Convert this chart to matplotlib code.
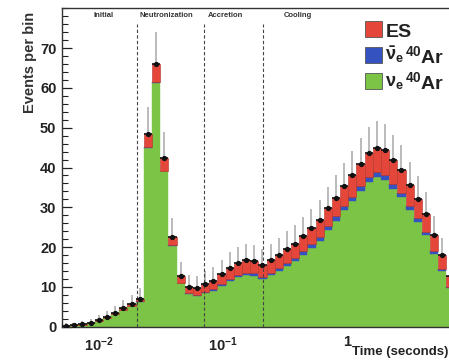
import numpy as np
import matplotlib
matplotlib.use("Agg")
import matplotlib.pyplot as plt
from matplotlib.patches import Rectangle

plt.rcParams['font.family'] = ['Liberation Sans', 'DejaVu Sans']
plt.rcParams['font.weight'] = 'bold'
plt.rcParams['mathtext.fontset'] = 'custom'
plt.rcParams['mathtext.rm'] = 'Liberation Sans:bold'
plt.rcParams['mathtext.it'] = 'Liberation Sans:bold'
plt.rcParams['mathtext.bf'] = 'Liberation Sans:bold'
plt.rcParams['mathtext.sf'] = 'Liberation Sans:bold'

# --- histogram binning: 50 log-spaced bins from 5 ms to 10 s ---
t_min, t_max, n_bins = 0.005, 10.0, 50

# events per bin, stacked: nu_e CC on argon, anti-nu_e CC on argon, elastic scattering
nue_ar = [0.28, 0.32, 0.55, 0.92, 1.48, 2.2, 3.1, 4.2, 5.2, 6.3,
          45.0, 61.2, 39.0, 20.4, 10.9, 8.1, 7.7, 8.4, 9.0, 10.2,
          11.5, 12.4, 13.0, 12.8, 11.9, 13.0, 14.1, 15.3, 16.5, 18.1,
          19.8, 21.6, 24.3, 26.6, 29.2, 31.5, 34.2, 36.4, 37.5, 36.8,
          34.7, 32.5, 29.2, 26.3, 23.0, 18.3, 14.1, 9.6, 5.7, 3.4]
nuebar_ar = [0.0, 0.0, 0.0, 0.0, 0.0, 0.0, 0.0, 0.0, 0.0, 0.1,
             0.2, 0.3, 0.2, 0.2, 0.2, 0.3, 0.3, 0.4, 0.4, 0.5,
             0.5, 0.6, 0.6, 0.6, 0.6, 0.6, 0.7, 0.7, 0.8, 0.8,
             0.9, 0.9, 1.0, 1.1, 1.1, 1.2, 1.2, 1.2, 1.3, 1.3,
             1.2, 1.2, 1.1, 1.0, 0.9, 0.7, 0.5, 0.4, 0.3, 0.2]
es = [0.02, 0.03, 0.05, 0.08, 0.12, 0.2, 0.3, 0.4, 0.5, 0.6,
      3.1, 4.5, 3.3, 2.0, 1.6, 1.5, 1.6, 1.9, 2.1, 2.5,
      2.8, 3.0, 3.1, 3.1, 3.0, 3.1, 3.3, 3.5, 3.6, 3.8,
      4.0, 4.2, 4.4, 4.7, 5.0, 5.3, 5.6, 6.0, 6.2, 6.2,
      5.9, 5.6, 5.2, 4.9, 4.5, 4.0, 3.4, 2.7, 2.0, 1.4]
# statistical uncertainty on the summed events
stat_err = [0.55, 0.6, 0.77, 1.0, 1.26, 1.55, 1.84, 2.14, 2.39, 2.65,
            6.95, 8.12, 6.52, 4.75, 3.56, 3.15, 3.1, 3.27, 3.39, 3.63,
            3.85, 4.0, 4.09, 4.06, 3.94, 4.09, 4.25, 4.42, 4.57, 4.76,
            4.97, 5.17, 5.45, 5.69, 5.94, 6.16, 6.4, 6.6, 6.71, 6.66,
            6.47, 6.27, 5.96, 5.67, 5.33, 4.8, 4.24, 3.56, 2.83, 2.24]

# phase boundaries (seconds) and labels
phase_edges = [0.02, 0.07, 0.21]
phase_names = ["Initial", "Neutronization", "Accretion", "Cooling"]
phase_label_x = [0.0108, 0.0345, 0.104, 0.4]

x_ticks = [0.01, 0.1, 1.0]
x_ticklabels = [r'$10^{-2}$', r'$10^{-1}$', '1']

c_green = '#7cc445'
c_blue = '#3452c0'
c_red = '#e5463a'

W, H = 449, 362
fig = plt.figure(figsize=(W / 100, H / 100), dpi=100)
ax = fig.add_axes([62 / W, 1 - 326.7 / H, 409 / W, (326.7 - 8.3) / H])

edges = np.logspace(np.log10(t_min), np.log10(t_max), n_bins + 1)
widths = np.diff(edges)
centers = np.sqrt(edges[:-1] * edges[1:])
g = np.array(nue_ar)
b = np.array(nuebar_ar)
r = np.array(es)
total = g + b + r
err = np.array(stat_err)

# gray error bars behind the stack, so only the upper half shows
ax.vlines(centers, total - err, total + err, color='#a8a8a8', lw=1.1, zorder=1)

ax.bar(edges[:-1], g, width=widths, align='edge', color=c_green,
       edgecolor=c_green, linewidth=0.3, zorder=2)
ax.bar(edges[:-1], b, bottom=g, width=widths, align='edge', color=c_blue,
       edgecolor=c_blue, linewidth=0.3, zorder=2)
ax.bar(edges[:-1], r, bottom=g + b, width=widths, align='edge', color=c_red,
       edgecolor='#b03428', linewidth=0.4, zorder=2)

ax.errorbar(centers, total, xerr=[centers - edges[:-1], edges[1:] - centers],
            fmt='o', ms=2.8, color='#111111', lw=1.2, capsize=0, zorder=4)

for xe in phase_edges:
    ax.vlines(xe, 0, 76, colors='#444444', linestyles=(0, (3, 2)), lw=0.8, zorder=3)

ax.set_xscale('log')
ax.set_xlim(t_min, t_max)
ax.set_ylim(0, 80)

ax.set_xticks(x_ticks)
ax.set_xticklabels(x_ticklabels)
ax.xaxis.set_minor_locator(matplotlib.ticker.LogLocator(base=10, subs=np.arange(2, 10)))
ax.xaxis.set_minor_formatter(matplotlib.ticker.NullFormatter())
ax.set_yticks(np.arange(0, 80, 10))
ax.yaxis.set_minor_locator(matplotlib.ticker.MultipleLocator(2))

ax.tick_params(axis='both', which='both', direction='in', colors='#222222')
ax.tick_params(axis='y', which='major', length=7, width=0.9, labelsize=10.5, pad=4)
ax.tick_params(axis='y', which='minor', length=4, width=0.8)
ax.tick_params(axis='x', which='major', length=6, width=0.9, labelsize=10.5, pad=6)
ax.tick_params(axis='x', which='minor', length=3, width=0.8)
for lbl in ax.get_xticklabels() + ax.get_yticklabels():
    lbl.set_color('#222222')
    lbl.set_fontweight('bold')

for s in ax.spines.values():
    s.set_linewidth(1.0)
    s.set_color('#333333')

fig.text(30 / W, 1 - 12 / H, "Events per bin", rotation=90, ha='center', va='top',
         fontsize=10.5, fontweight='bold', color='#333333')
fig.text(448 / W, 1 - 355 / H, "Time (seconds)", ha='right', va='baseline',
         fontsize=9.5, fontweight='bold', color='#222222')

for name, xl in zip(phase_names, phase_label_x):
    ax.text(xl, 78.2, name, ha='center', va='center', fontsize=5.5,
            fontweight='bold', color='#333333', zorder=5)

# legend drawn in figure pixels
def box(y_top, color):
    fig.patches.append(Rectangle((365 / W, 1 - (y_top + 16) / H), 17 / W, 16 / H,
                                 transform=fig.transFigure, facecolor=color,
                                 edgecolor='#555555', lw=0.6))

box(21, c_red)
box(47, c_blue)
box(73, c_green)
fig.text(386 / W, 1 - 37 / H, "ES", fontsize=14, fontweight='bold', va='baseline',
         color='#222222')
fig.text(385 / W, 1 - 60 / H, r'$\bar{\nu}_{e}$', fontsize=13, va='baseline', color='#222222')
fig.text(405 / W, 1 - 63 / H, r'$^{40}$Ar', fontsize=14, va='baseline', color='#222222')
fig.text(385 / W, 1 - 86 / H, r'$\nu_{e}$', fontsize=13, va='baseline', color='#222222')
fig.text(405 / W, 1 - 89 / H, r'$^{40}$Ar', fontsize=14, va='baseline', color='#222222')

fig.savefig("out.png", dpi=100)
